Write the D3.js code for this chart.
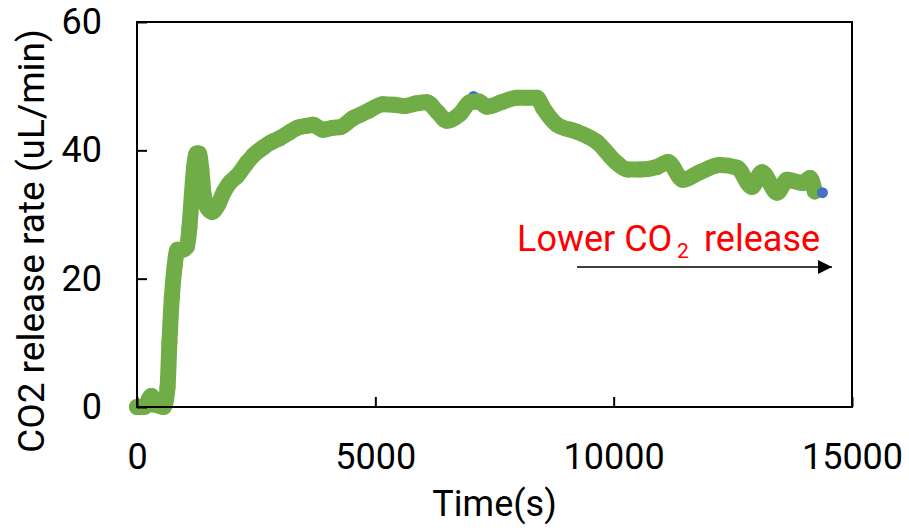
<!DOCTYPE html>
<html>
<head>
<meta charset="utf-8">
<script src="https://cdn.jsdelivr.net/npm/d3@7"></script>
<style>
  html, body { margin: 0; padding: 0; background: #fff; }
  svg { display: block; font-family: Roboto, "Noto Sans", sans-serif; }
</style>
</head>
<body>
<svg id="chart" width="909" height="530"></svg>
<script>
// ---- data ----
const timeS = [0, 150, 300, 420, 560, 640, 680, 730, 790, 850, 950, 1050, 1100, 1150, 1200, 1250, 1300, 1350, 1400, 1480, 1580, 1700, 1820, 1950, 2100, 2300, 2450, 2640, 2800, 3000, 3200, 3360, 3550, 3690, 3900, 4100, 4260, 4530, 4700, 4890, 5160, 5400, 5620, 5850, 6080, 6300, 6500, 6780, 6990, 7170, 7340, 7650, 7970, 8200, 8390, 8520, 8810, 9230, 9650, 10070, 10300, 10550, 10910, 11140, 11450, 11810, 12230, 12590, 12900, 13110, 13430, 13640, 13970, 14120, 14220];
const co2Rate = [0, 0, 1.7, 0.3, 0, 3, 10, 17, 22, 24.5, 24.5, 25, 28, 33, 37.5, 39.5, 39.5, 37, 33, 31, 30.4, 31.5, 33.5, 35, 36, 38, 39.3, 40.4, 41.2, 41.9, 42.8, 43.5, 43.8, 44, 43.2, 43.5, 43.6, 45, 45.6, 46.3, 47.2, 47.1, 46.9, 47.3, 47.5, 46, 44.6, 45.7, 47.5, 47.6, 46.8, 47.5, 48.2, 48.2, 48.2, 46.6, 44, 42.9, 41.3, 38, 37, 37, 37.4, 38.2, 35.4, 36.6, 37.7, 37.3, 34.3, 36.6, 33.4, 35.4, 34.9, 35.7, 33.6];
const blueT = [320, 7060, 14380];
const blueV = [0, 48.4, 33.4];
const xTicks = [0, 5000, 10000, 15000];
const yTicks = [0, 20, 40, 60];
const xTitle = "Time(s)";
const yTitle = "CO2 release rate (uL/min)";

// ---- layout ----
const svg = d3.select("#chart");
const mLeft = 137, mRight = 852, mTop = 22, mBottom = 407;
const x = d3.scaleLinear().domain([0, 15000]).range([mLeft, mRight]);
const y = d3.scaleLinear().domain([0, 60]).range([mBottom, mTop]);

const green = "#70AD47", blue = "#4472C4";
const pts = timeS.map((t, i) => [t, co2Rate[i]]);

// blue series underneath (except last point drawn on top)
svg.append("g").selectAll("circle")
  .data(blueT.slice(0, -1).map((t, i) => [t, blueV[i]]))
  .join("circle")
  .attr("cx", d => x(d[0])).attr("cy", d => y(d[1])).attr("r", 5.5)
  .attr("fill", blue);

// green thick marker trail
svg.append("path")
  .datum(pts)
  .attr("fill", "none")
  .attr("stroke", green)
  .attr("stroke-width", 16)
  .attr("stroke-linejoin", "round")
  .attr("stroke-linecap", "round")
  .attr("d", d3.line().x(d => x(d[0])).y(d => y(d[1])).curve(d3.curveMonotoneX));
svg.append("g").selectAll("circle")
  .data(pts)
  .join("circle")
  .attr("cx", d => x(d[0])).attr("cy", d => y(d[1])).attr("r", 8)
  .attr("fill", green);

svg.append("g").selectAll("circle")
  .data(blueT.slice(-1).map(t => [t, blueV[blueV.length - 1]]))
  .join("circle")
  .attr("cx", d => x(d[0])).attr("cy", d => y(d[1])).attr("r", 5.5)
  .attr("fill", blue);

// frame
svg.append("rect")
  .attr("x", mLeft).attr("y", mTop)
  .attr("width", mRight - mLeft).attr("height", mBottom - mTop)
  .attr("fill", "none").attr("stroke", "#000").attr("stroke-width", 2);

// axes
const gx = svg.append("g").attr("transform", `translate(0,${mBottom})`)
  .call(d3.axisBottom(x).tickValues(xTicks).tickFormat(d3.format("d"))
    .tickSizeInner(-10).tickSizeOuter(0).tickPadding(36));
const gy = svg.append("g").attr("transform", `translate(${mLeft},0)`)
  .call(d3.axisLeft(y).tickValues(yTicks).tickFormat(d3.format("d"))
    .tickSizeInner(-10).tickSizeOuter(0).tickPadding(35));
[gx, gy].forEach(g => {
  g.select(".domain").remove();
  g.selectAll(".tick line").attr("stroke", "#000").attr("stroke-width", 2);
  g.selectAll(".tick text").attr("fill", "#000")
    .style("font-family", "Roboto, sans-serif").style("font-size", "36px");
});

// titles
svg.append("text")
  .attr("x", (mLeft + mRight) / 2).attr("y", 516)
  .attr("text-anchor", "middle")
  .style("font-size", "36px").attr("fill", "#000")
  .text(xTitle);
svg.append("text")
  .attr("transform", `translate(44,241) rotate(-90)`)
  .attr("text-anchor", "middle")
  .style("font-size", "37px").attr("fill", "#000")
  .text(yTitle);

// annotation
const ann = svg.append("text")
  .attr("y", 251)
  .style("font-size", "36px").attr("fill", "#FF0000");
ann.append("tspan").attr("x", 517).text("Lower CO");
ann.append("tspan").attr("x", 677).attr("dy", 7).style("font-size", "21px").text("2");
ann.append("tspan").attr("x", 704).attr("dy", -7).text("release");

svg.append("defs").append("marker")
  .attr("id", "arrow").attr("viewBox", "0 0 10 10")
  .attr("refX", 10).attr("refY", 5)
  .attr("markerUnits", "userSpaceOnUse")
  .attr("markerWidth", 16).attr("markerHeight", 14)
  .attr("orient", "auto")
  .append("path").attr("d", "M0,0 L10,5 L0,10 Z").attr("fill", "#000");
svg.append("line")
  .attr("x1", 577).attr("y1", 267).attr("x2", 832).attr("y2", 267)
  .attr("stroke", "#000").attr("stroke-width", 1.5)
  .attr("marker-end", "url(#arrow)");
</script>
</body>
</html>
